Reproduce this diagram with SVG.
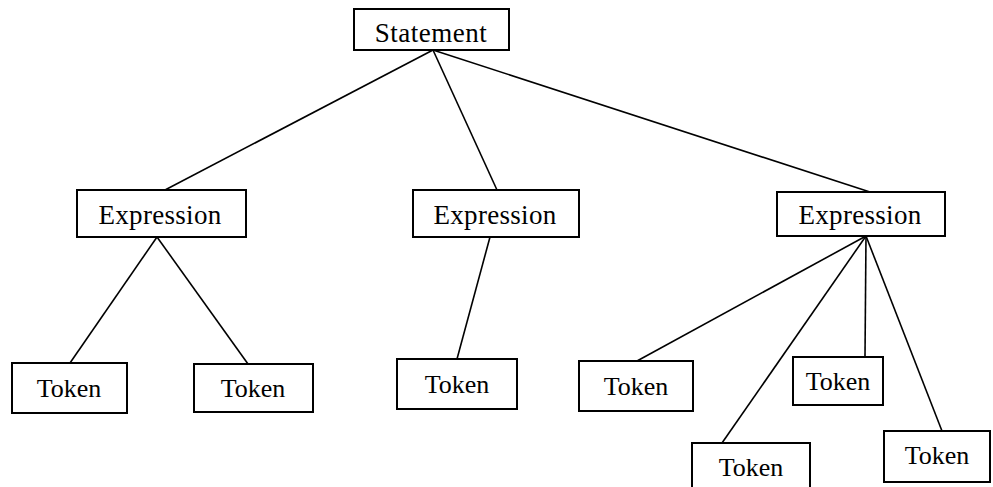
<svg xmlns="http://www.w3.org/2000/svg" width="993" height="487" viewBox="0 0 993 487">
  <style>
    .box { fill: #ffffff; stroke: #000000; stroke-width: 2; }
    .lbl { font-family: "Liberation Serif", "Times New Roman", serif; font-size: 27px; fill: #000000; text-anchor: middle; }
    .tok { font-size: 26px; }
    .edge { stroke: #000000; stroke-width: 1.6; fill: none; }
  </style>
  <rect width="993" height="487" fill="#ffffff"/>

  <!-- connectors -->
  <g id="connectors">
    <line class="edge" x1="433" y1="50" x2="165" y2="190"/>
    <line class="edge" x1="433" y1="50" x2="497" y2="190"/>
    <line class="edge" x1="433" y1="50" x2="870" y2="192"/>
    <line class="edge" x1="157" y1="237" x2="70" y2="363"/>
    <line class="edge" x1="157" y1="237" x2="248" y2="364"/>
    <line class="edge" x1="490" y1="237" x2="457" y2="359"/>
    <line class="edge" x1="866" y1="236" x2="637" y2="361"/>
    <line class="edge" x1="866" y1="236" x2="722" y2="443"/>
    <line class="edge" x1="866" y1="236" x2="865" y2="357"/>
    <line class="edge" x1="866" y1="236" x2="942" y2="431"/>
  </g>

  <!-- root -->
  <g id="statement">
    <rect class="box" x="354" y="9" width="155" height="41"/>
    <text class="lbl" x="431" y="42" letter-spacing="0.5">Statement</text>
  </g>

  <!-- expressions -->
  <g id="expr1">
    <rect class="box" x="77" y="190" width="169" height="47"/>
    <text class="lbl" x="160" y="224" letter-spacing="0.3">Expression</text>
  </g>
  <g id="expr2">
    <rect class="box" x="413" y="190" width="166" height="47"/>
    <text class="lbl" x="495" y="224" letter-spacing="0.3">Expression</text>
  </g>
  <g id="expr3">
    <rect class="box" x="777" y="192" width="168" height="44"/>
    <text class="lbl" x="860" y="224" letter-spacing="0.3">Expression</text>
  </g>

  <!-- tokens -->
  <g id="token1">
    <rect class="box" x="12" y="363" width="115" height="50"/>
    <text class="lbl tok" x="69" y="397">Token</text>
  </g>
  <g id="token2">
    <rect class="box" x="194" y="364" width="119" height="48"/>
    <text class="lbl tok" x="253" y="397">Token</text>
  </g>
  <g id="token3">
    <rect class="box" x="397" y="359" width="120" height="50"/>
    <text class="lbl tok" x="457" y="393">Token</text>
  </g>
  <g id="token4">
    <rect class="box" x="579" y="361" width="114" height="50"/>
    <text class="lbl tok" x="636" y="395">Token</text>
  </g>
  <g id="token5">
    <rect class="box" x="793" y="357" width="90" height="48"/>
    <text class="lbl tok" x="838" y="390">Token</text>
  </g>
  <g id="token6">
    <rect class="box" x="692" y="443" width="118" height="50"/>
    <text class="lbl tok" x="751" y="476">Token</text>
  </g>
  <g id="token7">
    <rect class="box" x="884" y="431" width="106" height="51"/>
    <text class="lbl tok" x="937" y="464">Token</text>
  </g>
</svg>
